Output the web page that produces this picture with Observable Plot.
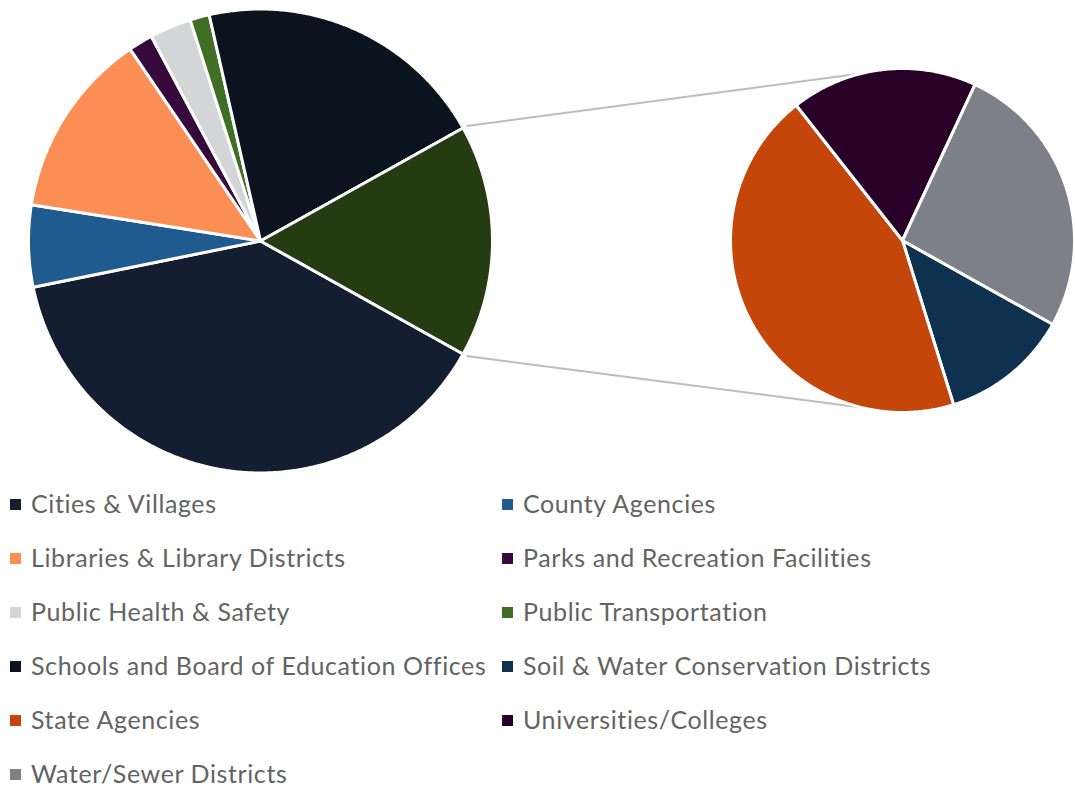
<!DOCTYPE html>
<html><head><meta charset="utf-8">
<script src="https://cdn.jsdelivr.net/npm/d3@7"></script>
<script src="https://cdn.jsdelivr.net/npm/@observablehq/plot@0.6"></script>
<style>
html,body{margin:0;padding:0;background:#fff;}
#wrap{position:relative;width:1075px;height:789px;overflow:hidden;}
#chart svg{display:block;}
.lg-item{position:absolute;display:flex;align-items:center;height:24px;white-space:nowrap;
  font-family:Lato,"Open Sans",sans-serif;font-size:25px;color:#636363;line-height:24px;
  letter-spacing:0.6px;font-variant-ligatures:none;font-feature-settings:"liga" 0;}
.lg-sw{display:inline-block;width:11px;height:11px;margin-right:10px;flex:none;}
</style></head><body>
<div id="wrap"><div id="chart"></div><div id="legend"></div></div>
<script>
// ---- data ----
const categories = ["Cities & Villages","County Agencies","Libraries & Library Districts","Parks and Recreation Facilities","Public Health & Safety","Public Transportation","Schools and Board of Education Offices","Soil & Water Conservation Districts","State Agencies","Universities/Colleges","Water/Sewer Districts"];
const values = [38.7, 5.7, 13.0, 1.7, 2.9, 1.35, 20.45, 1.96, 7.16, 2.84, 4.24];
const colors = ["#131e31","#1f5b8f","#fb8e55","#380a3c","#d4d5d7","#3f6e25","#0b131f","#0f3150","#c4460a","#290027","#7e8087"];
const secondPlotCount = 4;           // last N values go in the secondary pie
const otherName = "Other";
const otherColor = "#253c13";

// ---- layout ----
const W = 1075, H = 480;
const mainPie = {cx: 260, cy: 240.5, r: 232};
const secPie = {cx: 902, cy: 240, r: 172};
const connectorSecAngles = [346, 194]; // degrees (clockwise from 12 o'clock) on secondary pie

const items = categories.map((name, i) => ({name, value: values[i]}));
const primary = items.slice(0, items.length - secondPlotCount);
const secondary = items.slice(items.length - secondPlotCount);
const otherValue = d3.sum(secondary, d => d.value);
const mainItems = [...primary, {name: otherName, value: otherValue}];
const total = d3.sum(mainItems, d => d.value);
const otherSpan = otherValue / total * 2 * Math.PI;
const startAngle = Math.PI / 2 + otherSpan / 2;

function wedges(list, tot, start, c) {
  const rows = [];
  let a = start;
  for (const it of list) {
    const span = it.value / tot * 2 * Math.PI;
    const n = Math.max(2, Math.ceil(span / (Math.PI / 360)));
    rows.push({name: it.name, x: c.cx, y: c.cy});
    for (let k = 0; k <= n; k++) {
      const t = a + span * k / n;
      rows.push({name: it.name, x: c.cx + c.r * Math.sin(t), y: c.cy - c.r * Math.cos(t)});
    }
    rows.push({name: it.name, x: c.cx, y: c.cy});
    a += span;
  }
  return rows;
}
const mainRows = wedges(mainItems, total, startAngle, mainPie);
const secRows = wedges(secondary, otherValue, startAngle, secPie);

const mainCornerAngles = [Math.PI / 2 - otherSpan / 2, Math.PI / 2 + otherSpan / 2];
const connectors = mainCornerAngles.map((t, i) => {
  const s = connectorSecAngles[i] * Math.PI / 180;
  return {
    x1: mainPie.cx + (mainPie.r + 4) * Math.sin(t), y1: mainPie.cy - (mainPie.r + 4) * Math.cos(t),
    x2: secPie.cx + secPie.r * Math.sin(s), y2: secPie.cy - secPie.r * Math.cos(s)
  };
});

const chart = Plot.plot({
  width: W, height: H, margin: 0,
  x: {domain: [0, W], axis: null},
  y: {domain: [H, 0], axis: null},
  color: {domain: [...categories, otherName], range: [...colors, otherColor]},
  marks: [
    Plot.link(connectors, {x1: "x1", y1: "y1", x2: "x2", y2: "y2", stroke: "#bcbcbc", strokeWidth: 2}),
    Plot.line(mainRows, {x: "x", y: "y", z: "name", fill: "name", stroke: "white", strokeWidth: 3, strokeLinejoin: "round"}),
    Plot.line(secRows, {x: "x", y: "y", z: "name", fill: "name", stroke: "white", strokeWidth: 3, strokeLinejoin: "round"})
  ]
});
document.getElementById("chart").appendChild(chart);

// ---- legend ----
const legend = d3.select("#legend");
categories.forEach((name, i) => {
  const row = Math.floor(i / 2), col = i % 2;
  const cy = 504 + 54 * row;
  const it = legend.append("div").attr("class", "lg-item")
    .style("left", (col ? 502 : 10) + "px")
    .style("top", (cy - 12.7) + "px");
  it.append("span").attr("class", "lg-sw").style("background", colors[i]).style("margin-top", "2px");
  it.append("span").text(name);
});
</script>
</body></html>
